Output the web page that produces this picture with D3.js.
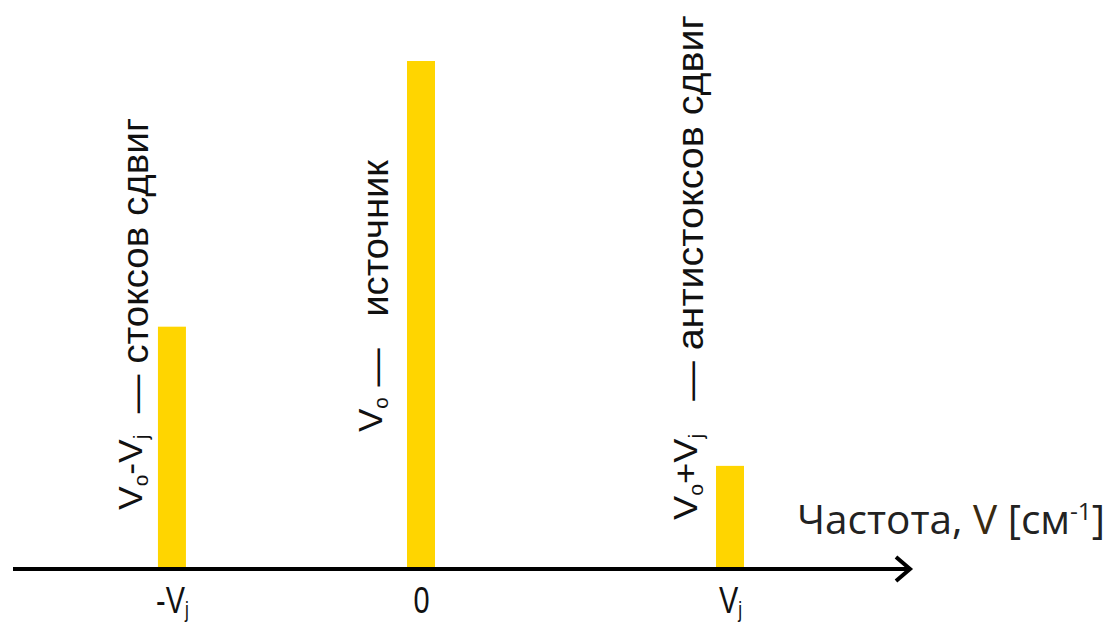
<!DOCTYPE html>
<html>
<head>
<meta charset="utf-8">
<style>
  body { margin: 0; background: #fff; }
  svg { display: block; }
</style>
</head>
<body>
<svg id="chart"></svg>
<script src="https://cdn.jsdelivr.net/npm/d3@7"></script>
<script>
  // spectral lines: relative position on the frequency axis and intensity
  var lines = ["stokes", "source", "antistokes"];
  var freq = [-0.806, 0, 1];
  var intensity = [47.7, 100, 20.3];

  // tick labels under the axis (base, subscript)
  var tickBase = ["-V", "0", "V"];
  var tickSub = ["j", "", "j"];

  // rotated captions: formula part and words
  var capFormula = [["V", "o", "-V", "j"], ["V", "o"], ["V", "o", "+V", "j"]];
  var capWords = ["  \u2014 стоксов сдвиг", " \u2014   источник", "   \u2014 антистоксов сдвиг"];

  var width = 1109, height = 623;
  var svg = d3.select("#chart").attr("width", width).attr("height", height);

  var axisY = 569;
  var x = d3.scaleLinear().domain([0, 1]).range([421, 730]);
  var y = d3.scaleLinear().domain([0, 100]).range([axisY, 61]);
  var barW = 28;

  // bars
  svg.selectAll("rect.bar")
    .data(lines)
    .enter()
    .append("rect")
    .attr("class", "bar")
    .attr("x", function (d, i) { return x(freq[i]) - barW / 2; })
    .attr("y", function (d, i) { return y(intensity[i]); })
    .attr("width", barW)
    .attr("height", function (d, i) { return axisY - y(intensity[i]); })
    .attr("fill", "#ffd500");

  // axis line with open arrow head
  var x0 = x.invert(13), x1 = x.invert(910);
  svg.append("line")
    .attr("x1", x(x0)).attr("x2", x(x1) - 3)
    .attr("y1", axisY).attr("y2", axisY)
    .attr("stroke", "#000").attr("stroke-width", 4);
  svg.append("path")
    .attr("d", d3.line()([[x(x1) - 14, axisY - 12], [x(x1), axisY], [x(x1) - 14, axisY + 12]]))
    .attr("fill", "none").attr("stroke", "#000").attr("stroke-width", 4)
    .attr("stroke-linejoin", "miter");

  // tick labels via an axis with no ticks
  var axis = d3.axisBottom(x).tickValues(freq).tickSize(0).tickFormat("");
  var gAxis = svg.append("g").attr("transform", "translate(0," + axisY + ")").call(axis);
  gAxis.select(".domain").remove();
  gAxis.selectAll(".tick").each(function (d, i) {
    var t = d3.select(this).append("text")
      .attr("y", 44)
      .attr("text-anchor", "middle")
      .attr("fill", "#111")
      .attr("transform", "scale(0.78,1)")
      .style("font-family", "'Liberation Sans', Arial, sans-serif")
      .style("font-size", "37px");
    t.append("tspan").text(tickBase[i]);
    if (tickSub[i]) t.append("tspan").attr("dy", 4).style("font-size", "22px").text(tickSub[i]);
  });

  // rotated captions
  var capX = [-30, -39, -33];
  var capY = [510, 432, 520];
  var capLen = [392, 272, 505];
  lines.forEach(function (d, i) {
    var t = svg.append("text")
      .attr("transform", "translate(" + (x(freq[i]) + capX[i]) + "," + capY[i] + ") rotate(-90)")
      .attr("textLength", capLen[i])
      .attr("lengthAdjust", "spacingAndGlyphs")
      .attr("fill", "#111")
      .style("font-family", "'Liberation Sans', Arial, sans-serif")
      .style("font-size", "34px");
    var f = capFormula[i];
    for (var k = 0; k < f.length; k += 2) {
      t.append("tspan").attr("dy", k === 0 ? 0 : -6).text(f[k]);
      t.append("tspan").attr("dy", 6).style("font-size", "20px").text(f[k + 1]);
    }
    t.append("tspan").style("white-space", "pre").style("font-size", "37px")
      .attr("xml:space", "preserve").text(capWords[i]);
  });

  // axis title
  var title = svg.append("text")
    .attr("x", 797).attr("y", 534)
    .attr("textLength", 308)
    .attr("lengthAdjust", "spacingAndGlyphs")
    .attr("fill", "#222")
    .style("font-family", "'Open Sans', 'Noto Sans', sans-serif")
    .style("font-size", "40px");
  title.append("tspan").text("Частота, ");
  title.append("tspan").attr("fill", "#3a2a10").text("V");
  title.append("tspan").text(" [см");
  title.append("tspan").attr("dy", -14).style("font-size", "24px").text("-1");
  title.append("tspan").attr("dy", 14).text("]");
</script>
</body>
</html>
